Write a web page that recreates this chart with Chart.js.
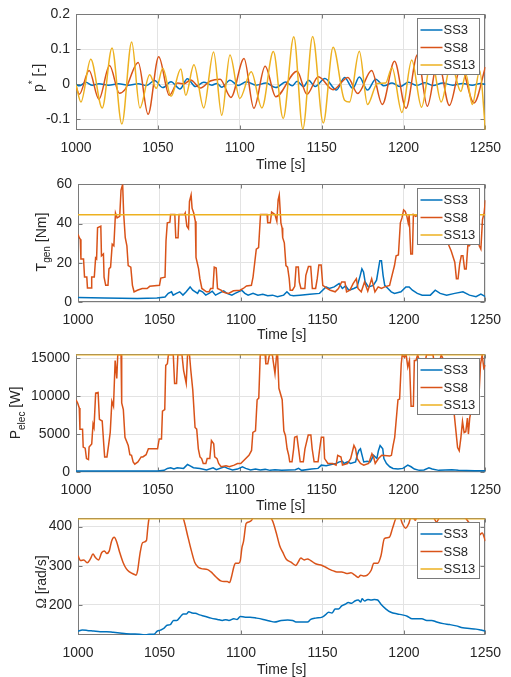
<!DOCTYPE html>
<html><head><meta charset="utf-8">
<script src="https://cdn.jsdelivr.net/npm/chart.js@4/dist/chart.umd.min.js"></script>
<style>
html,body{margin:0;padding:0;background:#fff;}
#wrap{position:relative;width:511px;height:677px;overflow:hidden;background:#fff;}
#wrap canvas{position:absolute;left:0;}
</style></head><body><div id="wrap"></div>
<script>
// ---------------- DATA ----------------
const seriesNames = ['SS3', 'SS8', 'SS13'];
const timeTicks = [1000, 1050, 1100, 1150, 1200, 1250];
const pStarTicks = [-0.1, 0, 0.1, 0.2];
const torqueTicks = [0, 20, 40, 60];
const powerTicks = [0, 5000, 10000, 15000];
const speedTicks = [200, 300, 400];

// Panel 1: p* [-]
const pStarTimeSS3 = [1000,1002,1006,1010,1014,1020,1026,1032,1038,1043,1048,1053,1058,1063.5,1068,1073,1078,1083,1086,1089,1094,1099,1104,1110,1116,1122,1128,1132,1135,1139,1142,1146,1152,1159,1164,1169,1173,1178,1183,1188,1193,1198,1203,1208,1213,1218,1224,1230,1236,1242,1247,1250];
const pStarSS3 = [0,-0.004,0.006,-0.002,0.002,-0.002,0.002,-0.002,0.002,-0.003,0.011,-0.009,0.008,-0.013,0.016,-0.006,0.006,-0.002,0.003,-0.008,0.012,-0.003,0.008,-0.002,0.004,-0.009,0.007,-0.004,0.009,-0.006,0.012,-0.006,0.017,-0.016,0.02,-0.011,0.021,-0.016,0.015,-0.004,0.004,-0.006,0.006,-0.003,0.005,-0.003,0.004,-0.002,0.003,-0.002,0.003,0];
const pStarTimeSS8 = [1000,1002,1008,1014,1020.5,1026.5,1030,1038,1044,1050.5,1057,1062,1066,1070,1076,1082,1088,1094.6,1102.6,1108.6,1115.5,1122,1135,1141,1148,1157,1166,1172,1180.5,1187,1194.5,1201.5,1208.5,1214.5,1221,1228,1235,1243,1250];
const pStarSS8 = [-0.006,-0.028,0.04,-0.042,0.054,-0.025,-0.014,0.063,-0.085,0.079,-0.031,0.004,0.002,0.013,-0.01,0.01,0.015,-0.037,0.074,-0.068,0.052,-0.035,0.038,-0.028,0.022,-0.015,0.02,-0.026,0.04,-0.057,0.066,-0.068,0.085,-0.062,0.07,-0.06,0.05,-0.053,0.05];
const pStarTimeSS13 = [1000,1003,1009,1016,1022,1028,1034,1039,1045,1049,1053,1058,1064,1067,1072,1078,1084,1089,1094,1100,1107,1113.5,1120.5,1126.5,1133,1138.5,1144.5,1151,1157,1164,1167,1173,1178,1184,1189,1193,1199,1205,1211,1217,1223,1229,1235,1238,1242,1246.5,1250];
const pStarSS13 = [0,-0.05,0.072,-0.067,0.104,-0.113,0.121,-0.067,0.028,-0.011,0.046,-0.034,0.044,-0.031,0.056,-0.067,0.093,-0.088,0.084,-0.04,0.036,-0.067,0.094,-0.097,0.136,-0.127,0.137,-0.11,0.106,-0.045,-0.05,0.095,-0.057,0.003,0.004,0.048,-0.08,0.07,-0.065,0.075,-0.05,0.06,-0.02,0.03,-0.057,0.04,-0.13];

// Panel 2: T_gen [Nm]
const torqueTimeSS3 = [1000,1016.4,1036.4,1048.4,1053.4,1055.4,1057.4,1058.4,1060.4,1062.4,1064.4,1066.4,1068.8,1070.4,1073.4,1074.4,1076.4,1078.4,1080.4,1082.4,1084.4,1086.4,1089.4,1091.4,1094.4,1096.4,1098.4,1100.4,1102.4,1104.4,1107.4,1110.4,1113.4,1116.4,1119.4,1122.4,1126.2,1128.2,1130.2,1132.2,1136.2,1142.2,1148.2,1152.2,1154.2,1157.2,1160.2,1162.2,1164.2,1166.2,1169.2,1171.2,1173.2,1174.2,1175.2,1176.2,1178.2,1181.2,1183.2,1185.2,1186.2,1187.2,1188.2,1190.2,1192.2,1194.2,1198.2,1201.2,1203.2,1205.2,1208.2,1211.2,1216.2,1219.2,1222.2,1226.2,1231.2,1236.2,1240.2,1244.2,1247.2,1250];
const torqueSS3 = [2.3,2.0,1.8,2.0,2.5,4.4,5.2,3.5,4.4,5.2,3.5,5.2,7.7,6.0,4.4,6.0,5.2,3.5,4.4,5.5,3.5,4.4,5.7,4.4,3.5,4.4,5.2,6.0,4.4,3.5,4.4,3.5,3.9,3.2,3.5,2.7,3.5,5.2,3.5,3.2,3.5,4.0,4.4,7.7,6.9,7.7,9.4,6.9,8.2,6.0,6.9,7.7,13.6,16.9,15.3,10.2,7.7,8.5,11.1,21.1,21.1,13.6,8.5,6.9,5.2,4.4,5.2,7.7,7.7,6.0,4.4,3.5,3.5,6.0,4.4,3.5,4.4,5.2,3.5,2.7,4.0,2.7];
const torqueTimeSS8 = [1000,1000.8,1001.4,1001.8,1003.4,1004,1005.4,1005.8,1008,1008.4,1010,1010.8,1011.4,1012,1014,1014.4,1015.6,1016,1017,1018.4,1019,1020,1021,1022,1023,1024,1025.6,1026.4,1027.4,1028,1029,1030,1030.8,1032.4,1033.4,1034.4,1036.4,1039.4,1042.4,1044,1050,1050.8,1053.4,1054,1054.8,1056.4,1056.8,1059.4,1060,1061.4,1062,1065.4,1065.8,1066.8,1067.8,1068.4,1069.4,1070,1071,1072,1072.4,1074,1074.8,1076,1078.8,1080.4,1081.4,1082.8,1083.6,1084.8,1085.6,1088,1088.8,1090.4,1092.4,1095.4,1099.4,1101.4,1103.4,1106.4,1107.4,1109.4,1110.8,1112,1116,1116.4,1118,1118.8,1120.8,1122,1122.8,1123.5,1124.5,1125.2,1125.6,1126.6,1127.6,1128.6,1129.6,1130.2,1131.6,1133,1133.8,1135.2,1135.8,1136.8,1139.2,1139.8,1141.4,1142.8,1143.8,1145.8,1146.8,1147.8,1149.2,1150.2,1152.8,1154.8,1157.8,1159.8,1161.8,1163.8,1164.8,1166.8,1168.8,1170.8,1171.8,1173.8,1175.8,1177.8,1180.2,1181.2,1182.2,1184.2,1186.2,1188.2,1191.2,1192.2,1194.2,1195.2,1196.6,1197.8,1198.8,1199.8,1200.8,1201.8,1202.6,1203.2,1204.2,1205.2,1205.8,1207.2,1209,1212,1215,1218,1221,1224,1227,1229,1231.2,1232.2,1233.2,1234.2,1235.2,1236.2,1237.2,1238.2,1239.2,1240.2,1242.2,1243.2,1244.2,1245.2,1246.2,1247.2,1248.2,1249.2,1250];
const torqueSS8 = [34.5,32.8,32.0,22.0,22.0,12.7,12.7,7.2,7.2,12.7,12.7,22.5,22.0,37.9,38.7,23.6,24.5,12.7,8.5,8.5,16.9,17.8,29.5,28.7,45.4,42.9,43.7,57.1,60,45.4,32.8,28.7,18.6,17.8,8.5,5.2,6.0,6.9,6.9,8.0,8.5,12.2,12.7,31.2,40.4,40.7,44.7,44.7,32.8,32.8,44.7,44.7,45.4,38.7,37.4,51.3,54.6,47.9,45.4,41.2,22.8,16.9,11.9,6.9,5.2,5.2,6.9,6.9,17.8,17.3,6.9,6.0,5.2,4.7,4.4,5.7,6.0,6.9,8.2,8.5,12.7,27,27.8,44.7,44.7,40.4,40.4,45.9,44.7,41.2,52.1,54.6,40.4,37.9,32.8,30.2,18.6,17.8,11.9,6.0,6.0,8.0,17.8,17.8,10.2,6.9,6.9,13.6,18.1,18.1,6.9,6.9,11.9,18.9,18.9,8.5,6.9,6.0,5.2,6.9,10.2,10.2,5.2,6.0,9.4,11.9,6.9,5.2,10.2,5.5,11.9,8.5,5.2,7.7,6.9,7.7,8.5,11.9,18.6,23.6,24.0,40.4,42.9,47.0,46.2,43.7,40.4,44.4,24.5,24.5,44.6,43.7,44.6,44.0,46.0,40.0,44.0,38.0,30.0,26.0,20.3,11.9,11.9,19.4,23.6,23.6,16.9,16.9,28.7,28.7,32.0,38.9,40.4,45.4,28.7,27.0,42.0,45.4,52.0];
const torqueTimeSS13 = [1000, 1250];
const torqueSS13 = [44.5, 44.5];

// Panel 3: P_elec [W]
const powerTimeSS3 = [1000,1049.8,1053.8,1055.8,1057.8,1059.8,1061.8,1065.7,1068.1,1069.7,1071.7,1075.7,1079.7,1083.7,1085.7,1090.6,1092.6,1095.6,1098.6,1101.6,1103.6,1106.6,1109.6,1112.5,1115.5,1118.5,1121.5,1125.5,1129.9,1133.9,1135.9,1137.8,1143.8,1147.8,1149.8,1152.8,1155.8,1158.8,1160.8,1162.7,1163.7,1165.7,1167.7,1170.7,1171.7,1172.7,1173.7,1174.7,1175.7,1177.7,1179.7,1181.7,1183.7,1184.7,1185.7,1187.3,1188,1189.6,1191.6,1193.6,1196.6,1199.6,1202.6,1204.6,1206.6,1209.6,1212.5,1215.5,1217.5,1221.5,1229.5,1233.5,1243.4,1250];
const powerSS3 = [129,129,216,474,560,388,560,474,991,819,560,474,259,560,302,690,474,259,388,690,474,259,388,259,345,216,302,216,259,302,474,216,388,474,905,819,991,1121,1336,1422,1121,1336,1121,1336,2198,2845,3060,2198,1336,1422,1336,2198,1767,2845,3491,3060,1767,1121,690,474,388,474,905,690,388,216,259,560,388,216,302,216,172,172];
const powerTimeSS8 = [1000,1001,1002,1002.4,1004,1004.4,1005.6,1006.4,1007.6,1008,1009.6,1010.4,1011,1012,1013.5,1014.3,1016,1017,1017.5,1018.9,1020,1020.9,1021.9,1022.9,1023.9,1024.9,1025.5,1027.5,1027.9,1028.9,1029.9,1031.9,1032.9,1033.9,1034.9,1035.9,1037.8,1039.8,1040.8,1042.8,1044.2,1049.8,1050.8,1052.2,1052.8,1054.2,1054.8,1055.8,1056.4,1059.4,1060.2,1061.4,1062.2,1064.7,1065.7,1067.3,1068.1,1069.3,1070.1,1071.3,1072.7,1073.7,1074.7,1075.7,1076.7,1077.7,1079.3,1080.1,1081.7,1082.7,1084.1,1084.7,1086.1,1087.1,1088.6,1091.6,1093.6,1096.6,1098.6,1100.6,1102.6,1105.6,1107.2,1108,1109.6,1110.6,1111.6,1112.5,1115.5,1115.9,1117.1,1118.1,1119.9,1120.5,1121.5,1122.5,1123.1,1123.9,1125.9,1126.9,1127.9,1128.9,1129.9,1130.5,1131.9,1132.9,1133.5,1134.9,1135.9,1136.9,1138.8,1139.8,1141.8,1143.4,1144.2,1145.4,1147.8,1148.8,1149.8,1151.2,1151.8,1153.8,1156.8,1158.8,1159.8,1161.8,1162.7,1165.7,1167.7,1169.7,1170.7,1171.7,1173.7,1175.7,1178.7,1180.7,1181.7,1182.7,1184.7,1186.7,1191.6,1192.6,1193.6,1194.6,1196.6,1197.6,1198.6,1199.2,1200.6,1201.6,1202.6,1203.6,1204.6,1206,1206.6,1207.6,1208.6,1212,1214,1218,1220,1223,1226,1229,1231,1233,1234,1235,1236,1237,1238,1239,1239.6,1240.4,1241.6,1243,1244,1245,1246,1247,1248,1249,1250];
const powerSS8 = [9525,9094,8448,5646,5646,3276,3146,1767,1638,3276,3707,6293,5862,10387,10473,6939,6724,3491,1983,1983,3707,5215,9310,8663,14697,12327,15450,15450,9094,8232,4569,3491,2284,2198,1336,1034,1336,1983,1983,2284,3060,3060,4353,4353,8017,8232,14051,14266,15450,15450,11680,11680,15450,15450,13404,11680,15450,15450,13404,10818,5862,5646,3060,1983,1767,1121,1121,1767,1767,4138,3707,1983,1767,1121,690,819,690,905,1121,1121,1552,2198,2845,5215,5431,9525,9741,15450,15450,14266,14266,15450,15450,14482,12973,15450,15450,11034,9525,5431,4784,3060,2198,1336,1336,3060,4569,4698,3060,1336,1336,3060,4870,4870,3060,1336,1336,3060,4569,4569,1767,1121,1121,905,2198,1983,905,1121,1767,3491,3060,1767,1121,905,1121,2414,1983,1121,1767,2198,2112,2198,3491,4569,9525,9611,14266,15450,15128,15450,13835,14697,8663,8663,14697,14697,15450,13000,15450,15450,12500,15450,14000,11000,7500,3230,2800,4500,6680,5200,5300,7100,5000,7100,8500,10000,13000,8300,9800,14200,15450,13700,14100];
const powerTimeSS13 = [1000, 1250];
const powerSS13 = [15450, 15450];

// Panel 4: Omega [rad/s]
const speedTimeSS3 = [1000,1002.6,1005.6,1009.6,1013.6,1017.6,1021.6,1025.6,1029.6,1033.6,1037.6,1040.6,1043.6,1046.6,1048.6,1050.6,1052.6,1054.6,1056.6,1058.6,1060.6,1062.6,1064.6,1066.6,1068,1070,1072,1074.6,1077.6,1081.6,1085.6,1088.6,1090.6,1092.6,1095.6,1097.6,1099.6,1102.6,1105.6,1109.6,1113.6,1117.6,1120.6,1124.7,1128.7,1131.7,1133.7,1140.8,1142.8,1145.8,1149.8,1151.8,1153.8,1155.8,1157.8,1159.8,1161.8,1163.9,1165.9,1167.9,1169.9,1171.9,1173.5,1174.3,1175.9,1177.9,1179.9,1181.9,1183.9,1185.9,1189,1192,1196,1199,1202,1205,1211,1214,1217,1220.1,1224.1,1228.1,1232.1,1236.1,1240.2,1244.2,1247.2,1250];
const speedSS3 = [133,135.5,134.7,133,131.4,131.4,129.8,128.1,126.4,125.6,124.8,123.1,124.8,124.8,133,135.5,139.7,148.1,149.6,160.3,160.3,168.6,176.9,176.9,182.6,179.3,178.5,174.4,171.1,166.1,162.8,160.3,162,160.3,164.5,162.8,170.2,168.6,168.6,166.1,162.8,158.7,156.2,160.3,161.2,160.3,156.2,156.2,162.8,166.1,168.6,174.4,181,179.3,189.3,189.3,197.5,201.7,205.8,204.1,209.9,212.4,207.4,215.7,209.9,214,212.4,214,212.4,201.7,189.3,181,176.9,174.4,171.1,164.5,164.5,160.3,160.3,156.2,152.1,149.6,146.3,141.3,139.7,138,135.5,133];
const speedTimeSS8 = [1000,1001.6,1003.6,1005.6,1007.6,1009.2,1010.6,1012.6,1014.6,1016.2,1017.6,1019.2,1020.6,1022.2,1023.6,1025.6,1027.6,1029.6,1031.6,1034.6,1035.6,1036.6,1038,1039.6,1042,1042.8,1043.6,1048,1054,1060,1064.6,1067.6,1069.6,1071.6,1073.6,1075.6,1079.6,1081.6,1083.6,1085.6,1087.6,1089.6,1091.6,1093,1094.2,1095.6,1096.6,1098.6,1099.6,1100.6,1101.6,1103.2,1105.2,1106.6,1107.6,1113,1118.6,1119.6,1121.6,1123.7,1125.7,1127.7,1130.7,1133.7,1135.1,1136.7,1138.8,1140.8,1142.8,1145.8,1149.8,1151.8,1154.8,1156.8,1158.8,1161.8,1164.9,1167.5,1169.9,1171.9,1173.5,1175.5,1177.5,1179.9,1181.5,1183.9,1185.9,1188,1191,1193,1195,1197,1199,1201,1203,1204.4,1206,1207,1208,1214,1218,1220,1222,1228,1236,1240,1246,1248,1250];
const speedSS8 = [325.6,313.2,314.9,307.4,317.4,329.8,321.5,314.9,333.9,338,331.4,338,362.8,372.7,362.8,333.9,309.1,292.6,284.3,277.7,276,288.4,329.8,358.7,364.5,395.9,420.7,445,455,445,420.7,371.1,338,309.1,296.7,292.6,290.1,284.3,276,267.8,261.2,259.5,259.5,257,271.9,296.7,306.6,306.6,313.2,346.3,362.8,408.3,412.4,416.5,424.8,440,420.7,412.4,385,352,334,317.4,309.1,300.8,309.1,319.8,314.9,317.4,313.2,305,300.8,296.7,290.1,286.8,284.3,284.3,280.2,281.8,276,270.2,276,273.6,276,288.4,306.6,306.6,325.6,369.4,372.7,395.9,420.7,430,408.3,395.9,408.3,424.8,420.7,416.5,424.8,440,425,412,425,445,430,410,378,383.5,363];
const speedTimeSS13 = [1000, 1250];
const speedSS13 = [420, 420];

// ---------------- STYLE / LAYOUT ----------------
const COLORS = ['#0072BD', '#D95319', '#EDB120'];
const FONT = "'Liberation Sans', Arial, Helvetica, sans-serif";
const TXT = '#262626';
const AXIS = '#7a7a7a';
const GRID = '#e3e3e3';
const TICK_SIZE = 14;
const LEG_SIZE = 13;

const panels = [
  {top:0, plotTop:12, plotBottom:130, plotLeft:76, plotRight:493, titleY:165,
   yMin:-0.13, yMax:0.2, yTicks:pStarTicks, tickFmt:v=>String(v),
   times:[pStarTimeSS3,pStarTimeSS8,pStarTimeSS13], values:[pStarSS3,pStarSS8,pStarSS13],
   smooth:true, label:[{t:'p'},{t:'*',sup:true},{t:' [-]'}], labelX:39, labelY:78},
  {top:170, plotTop:182, plotBottom:302, plotLeft:78, plotRight:495, titleY:335,
   yMin:0, yMax:60, yTicks:torqueTicks, tickFmt:v=>String(v),
   times:[torqueTimeSS3,torqueTimeSS8,torqueTimeSS13], values:[torqueSS3,torqueSS8,torqueSS13],
   smooth:false, label:[{t:'T'},{t:'gen',sub:true},{t:' [Nm]'}], labelX:42, labelY:242},
  {top:340, plotTop:352, plotBottom:472, plotLeft:76, plotRight:493, titleY:506,
   yMin:0, yMax:15500, yTicks:powerTicks, tickFmt:v=>String(v),
   times:[powerTimeSS3,powerTimeSS8,powerTimeSS13], values:[powerSS3,powerSS8,powerSS13],
   smooth:false, label:[{t:'P'},{t:'elec',sub:true},{t:' [W]'}], labelX:16.5, labelY:413},
  {top:504, plotTop:516, plotBottom:635, plotLeft:78, plotRight:496, titleY:670,
   yMin:123, yMax:421, yTicks:speedTicks, tickFmt:v=>String(v),
   times:[speedTimeSS3,speedTimeSS8,speedTimeSS13], values:[speedSS3,speedSS8,speedSS13],
   smooth:true, label:[{t:'\u03A9', family:"'Liberation Serif', 'DejaVu Serif', serif"},{t:' [rad/s]'}], labelX:42, labelY:582}
];

function drawVerticalRich(ctx, parts, cx, cy, size) {
  ctx.save();
  ctx.translate(cx, cy);
  ctx.rotate(-Math.PI / 2);
  let total = 0;
  const items = parts.map(pt => {
    const sz = (pt.sub || pt.sup) ? size * 0.72 : size;
    const fam = pt.family || FONT;
    ctx.font = sz + 'px ' + fam;
    const w = ctx.measureText(pt.t).width;
    total += w;
    return Object.assign({}, pt, {sz, fam, w});
  });
  let x = -total / 2;
  ctx.textBaseline = 'middle';
  ctx.textAlign = 'left';
  ctx.fillStyle = TXT;
  for (const it of items) {
    ctx.font = it.sz + 'px ' + it.fam;
    const dy = it.sub ? size * 0.38 : (it.sup ? -size * 0.4 : 0);
    ctx.fillText(it.t, x, dy);
    x += it.w;
  }
  ctx.restore();
}

function decorPlugin(p) {
  return {
    id: 'matlabDecor',
    beforeDatasetsDraw(chart) {
      const {ctx, chartArea: a} = chart;
      const xs = chart.scales.x, ys = chart.scales.y;
      const L = Math.round(a.left) + 0.5, R = Math.round(a.right) - 0.5;
      const T = Math.round(a.top) + 0.5, B = Math.round(a.bottom) - 0.5;
      ctx.save();
      ctx.strokeStyle = AXIS;
      ctx.lineWidth = 1;
      ctx.strokeRect(L, T, R - L, B - T);
      ctx.beginPath();
      for (const v of timeTicks) {
        const x = Math.round(xs.getPixelForValue(v)) + 0.5;
        ctx.moveTo(x, B); ctx.lineTo(x, B - 4);
        ctx.moveTo(x, T); ctx.lineTo(x, T + 4);
      }
      for (const v of p.yTicks) {
        const y = Math.round(ys.getPixelForValue(v)) + 0.5;
        ctx.moveTo(L, y); ctx.lineTo(L + 4, y);
        ctx.moveTo(R, y); ctx.lineTo(R - 4, y);
      }
      ctx.stroke();
      ctx.restore();
    },
    afterDraw(chart) {
      const {ctx, chartArea: a} = chart;
      drawVerticalRich(ctx, p.label, p.labelX, p.labelY - p.top, TICK_SIZE);
      const w = 62, h = 56;
      const bx = Math.round(a.right - 6 - w) + 0.5, by = Math.round(a.top + 4) + 0.5;
      ctx.save();
      ctx.fillStyle = '#ffffff';
      ctx.fillRect(bx, by, w, h);
      ctx.strokeStyle = AXIS;
      ctx.lineWidth = 1;
      ctx.strokeRect(bx, by, w, h);
      ctx.font = LEG_SIZE + 'px ' + FONT;
      ctx.textBaseline = 'middle';
      ctx.textAlign = 'left';
      chart.data.datasets.forEach((ds, i) => {
        const y = by + 11.5 + i * 17.5;
        ctx.strokeStyle = ds.borderColor;
        ctx.lineWidth = 1.5;
        ctx.beginPath();
        ctx.moveTo(bx + 3, y); ctx.lineTo(bx + 25, y);
        ctx.stroke();
        ctx.fillStyle = TXT;
        ctx.fillText(ds.label, bx + 26, y + 0.5);
      });
      ctx.restore();
    }
  };
}

const wrap = document.getElementById('wrap');
panels.forEach((p, idx) => {
  const lh = TICK_SIZE * 1.2;
  const xH = p.titleY - p.plotBottom + lh / 2;
  const height = Math.ceil(p.plotBottom - p.top + xH + 1);
  const cv = document.createElement('canvas');
  cv.width = 511; cv.height = height;
  cv.style.top = p.top + 'px';
  cv.style.width = '511px'; cv.style.height = height + 'px';
  wrap.appendChild(cv);
  const datasets = seriesNames.map((name, i) => ({
    label: name,
    data: p.times[i].map((t, k) => ({x: t, y: p.values[i][k]})),
    borderColor: COLORS[i],
    backgroundColor: COLORS[i],
    borderWidth: 1.5,
    pointRadius: 0,
    fill: false,
    tension: 0,
    cubicInterpolationMode: p.smooth ? 'monotone' : 'default',
    order: 3 - i
  }));
  new Chart(cv, {
    type: 'line',
    data: {datasets},
    options: {
      responsive: false,
      animation: false,
      devicePixelRatio: 1,
      layout: {padding: {top: p.plotTop - p.top, left: 0, right: 511 - p.plotRight, bottom: height - (p.plotBottom - p.top) - xH}},
      plugins: {legend: {display: false}, tooltip: {enabled: false}},
      scales: {
        x: {
          type: 'linear', min: 1000, max: 1250,
          afterBuildTicks: s => { s.ticks = timeTicks.map(v => ({value: v})); },
          afterFit: s => { s.height = xH; },
          grid: {color: GRID, drawTicks: false, lineWidth: 1},
          border: {display: false},
          ticks: {color: TXT, font: {family: FONT, size: TICK_SIZE}, padding: 10, maxRotation: 0, autoSkip: false, callback: v => String(v)},
          title: {display: true, text: 'Time [s]', color: TXT, font: {family: FONT, size: TICK_SIZE}, padding: {top: 0, bottom: 0}}
        },
        y: {
          type: 'linear', min: p.yMin, max: p.yMax,
          afterBuildTicks: s => { s.ticks = p.yTicks.map(v => ({value: v})); },
          afterFit: s => { s.width = p.plotLeft; },
          grid: {color: GRID, drawTicks: false, lineWidth: 1},
          border: {display: false},
          ticks: {color: TXT, font: {family: FONT, size: TICK_SIZE}, padding: 6, autoSkip: false, callback: p.tickFmt}
        }
      }
    },
    plugins: [decorPlugin(p)]
  });
});
</script>
</body></html>
